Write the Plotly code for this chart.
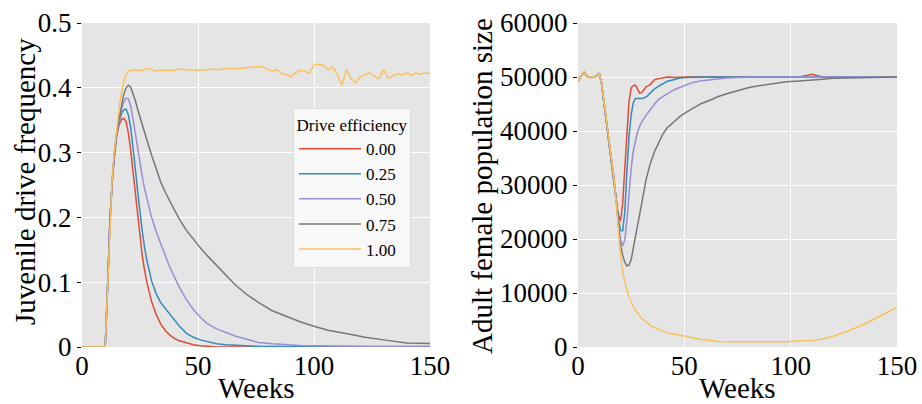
import plotly.graph_objects as go

# ---------------- data ----------------
series_names = ["0.00", "0.25", "0.50", "0.75", "1.00"]
colors = ["#E24A33", "#348ABD", "#988ED5", "#777777", "#FBC15E"]

# Left panel: juvenile drive frequency
weeks_left = [0, 10, 11, 12, 13, 14, 15, 16, 17, 18, 19, 20, 21, 22, 23, 24, 25, 26, 27, 28,
              30, 32, 34, 36, 38, 40, 42, 45, 48, 51, 54, 58, 62, 66, 71, 76, 82, 88, 94, 100,
              106, 115, 122, 130, 140, 150]
freq_000 = [0, 0, 0.09, 0.19, 0.255, 0.3, 0.328, 0.343, 0.351, 0.353, 0.348, 0.33, 0.303, 0.27, 0.235,
            0.197, 0.165, 0.14, 0.118, 0.099, 0.07, 0.05, 0.035, 0.025, 0.018, 0.013, 0.0095, 0.0065,
            0.0035, 0.002, 0.001, 0, 0, 0, 0, 0, 0, 0, 0, 0, 0, 0, 0, 0, 0, 0]
freq_025 = [0, 0, 0.09, 0.19, 0.255, 0.3, 0.33, 0.348, 0.36, 0.366, 0.367, 0.358, 0.338, 0.31, 0.275,
            0.24, 0.207, 0.178, 0.153, 0.133, 0.102, 0.082, 0.068, 0.059, 0.051, 0.041, 0.032, 0.021,
            0.015, 0.011, 0.008, 0.005, 0.0035, 0.0025, 0.0015, 0.001, 0.0007, 0.0005, 0.0004, 0.0003,
            0.0002, 0.0001, 0, 0, 0, 0]
freq_050 = [0, 0, 0.09, 0.19, 0.255, 0.3, 0.33, 0.35, 0.367, 0.378, 0.384, 0.383, 0.372, 0.352, 0.328,
            0.303, 0.282, 0.262, 0.244, 0.228, 0.2, 0.178, 0.158, 0.14, 0.122, 0.106, 0.092, 0.073,
            0.058, 0.046, 0.036, 0.028, 0.022, 0.017, 0.012, 0.007, 0.005, 0.0035, 0.0025, 0.002,
            0.0015, 0.001, 0.001, 0.001, 0.001, 0.001]
freq_075 = [0, 0, 0.09, 0.19, 0.255, 0.3, 0.332, 0.352, 0.372, 0.39, 0.4, 0.404, 0.401, 0.392, 0.38,
            0.367, 0.354, 0.342, 0.33, 0.319, 0.296, 0.274, 0.254, 0.238, 0.224, 0.21, 0.197, 0.18,
            0.166, 0.153, 0.141, 0.126, 0.11, 0.096, 0.081, 0.069, 0.056, 0.047, 0.039, 0.032,
            0.026, 0.02, 0.015, 0.011, 0.006, 0.0055]
weeks_left_full = [0, 10, 11, 12, 13, 14, 15, 16, 17, 18, 19, 20] + list(range(22, 151, 2))
freq_100 = [0, 0, 0.09, 0.19, 0.26, 0.305, 0.34, 0.368, 0.392, 0.41, 0.42, 0.426,
            0.428, 0.427, 0.427, 0.43, 0.428, 0.426, 0.427, 0.427, 0.428, 0.427, 0.429, 0.428,
            0.428, 0.427, 0.428, 0.427, 0.428, 0.429, 0.428, 0.429, 0.43, 0.43, 0.429, 0.43,
            0.431, 0.432, 0.432, 0.433, 0.432, 0.428, 0.426, 0.428, 0.422, 0.421, 0.417, 0.423,
            0.427, 0.426, 0.422, 0.436, 0.436, 0.435, 0.428, 0.432, 0.421, 0.404, 0.428, 0.414,
            0.408, 0.417, 0.42, 0.423, 0.418, 0.414, 0.428, 0.415, 0.418, 0.422, 0.42, 0.423,
            0.419, 0.423, 0.421, 0.423, 0.422]

# Right panel: adult female population size
weeks_right = list(range(0, 31)) + [32, 34, 36, 38, 40, 42, 45, 48, 51, 54, 58, 62, 66, 70, 75,
                                    80, 85, 92, 98, 104, 110, 115, 120, 128, 135, 142, 150]
pre = [49200, 50000, 50500, 50900, 50200, 50000, 50000, 50100, 50100, 50300, 50700,
       49000, 46000, 43000, 40000, 37000, 34000, 31000]
pop_000 = pre + [26800, 24500, 23300, 26500, 33000, 40000, 45500, 48000, 48400, 48500, 47600,
                 47000, 47100, 48200, 48600, 49500, 49700, 49900, 50000, 49900, 50000, 50000,
                 50000, 50000, 50000, 50000, 50000, 50000, 50000, 50000, 50000, 50000, 50000,
                 50500, 50000, 50000, 50000, 50000, 50000, 50000, 50000]
pop_025 = pre + [27000, 23600, 21600, 21500, 25000, 32500, 39000, 43000, 45300, 46000, 46000,
                 46000, 46000, 46300, 47100, 47800, 48300, 48800, 49200, 49500, 49800, 49900,
                 50000, 50000, 50000, 50000, 50000, 50000, 50000, 50000, 50000, 50000, 50000,
                 50000, 50000, 50000, 50000, 50000, 50000, 50000, 50000]
pop_050 = pre + [27200, 22800, 19800, 18700, 19800, 23500, 28500, 33000, 36300, 38400, 39800,
                 40900, 41700, 42900, 44000, 45000, 45900, 46400, 46900, 47600, 48100, 48600,
                 49000, 49300, 49500, 49700, 49800, 49900, 50000, 50000, 50000, 50000, 50000,
                 50000, 50000, 50000, 50000, 50000, 50000, 50000, 50000]
pop_075 = pre + [27300, 22500, 19000, 17000, 15700, 15000, 15200, 16200, 18200, 20500, 22500,
                 24500, 26700, 31000, 34000, 36200, 38000, 39500, 40600, 41700, 42700, 43500,
                 44200, 45100, 45700, 46400, 46900, 47500, 48000, 48400, 48800, 49100, 49250,
                 49500, 49600, 49750, 49800, 49900, 49900, 50000, 50000]
pop_100 = pre + [26500, 21500, 17000, 13800, 12000, 10500, 9300, 8300, 7500, 6800, 6200,
                 5800, 5300, 4600, 4000, 3600, 3200, 2900, 2650, 2400, 2150, 1950, 1700, 1400,
                 1200, 1000, 950, 950, 950, 950, 950, 950, 1150, 1200, 1500, 2000, 3100, 4300,
                 5700, 7400]

x_ticks = [0, 50, 100, 150]
left_y_ticks = [0, 0.1, 0.2, 0.3, 0.4, 0.5]
left_y_labels = ["0", "0.1", "0.2", "0.3", "0.4", "0.5"]
right_y_ticks = [0, 10000, 20000, 30000, 40000, 50000, 60000]
right_y_labels = ["0", "10000", "20000", "30000", "40000", "50000", "60000"]

# ---------------- figure ----------------
FONT = "Liberation Serif"
fig = go.Figure()

left_series = [(weeks_left, freq_000), (weeks_left, freq_025), (weeks_left, freq_050),
               (weeks_left, freq_075), (weeks_left_full, freq_100)]
right_series = [pop_000, pop_025, pop_050, pop_075, pop_100]

for (xs, ys), name, c in zip(left_series, series_names, colors):
    fig.add_trace(go.Scatter(x=xs, y=ys, mode="lines", name=name,
                             line=dict(color=c, width=1.5), xaxis="x", yaxis="y"))
for ys, name, c in zip(right_series, series_names, colors):
    n = min(len(ys), len(weeks_right))
    fig.add_trace(go.Scatter(x=weeks_right[:n], y=ys[:n], mode="lines", name=name, showlegend=False,
                             line=dict(color=c, width=1.5), xaxis="x2", yaxis="y2"))

W, H = 922, 404
TOP, BOT = 23, 347
dom_y = [1 - BOT / H, 1 - TOP / H]


def axis_common():
    return dict(showgrid=True, gridcolor="white", gridwidth=1.2, zeroline=False,
                showline=False, automargin=False,
                tickfont=dict(family=FONT, size=27, color="black"))


fig.update_layout(
    width=W, height=H,
    margin=dict(l=0, r=0, t=0, b=0, autoexpand=False),
    paper_bgcolor="white", plot_bgcolor="#E5E5E5",
    font=dict(family=FONT, color="black"),
    xaxis=dict(domain=[82 / W, 430 / W], range=[0, 150], tickvals=x_ticks,
               ticks="", anchor="y", **axis_common()),
    yaxis=dict(domain=dom_y, range=[0, 0.5], tickvals=left_y_ticks, ticktext=left_y_labels,
               ticks="outside", ticklen=4, tickcolor="black", tickwidth=1, anchor="x",
               **axis_common()),
    xaxis2=dict(domain=[578 / W, 897 / W], range=[0, 150], tickvals=x_ticks,
                ticks="", anchor="y2", **axis_common()),
    yaxis2=dict(domain=dom_y, range=[0, 60000], tickvals=right_y_ticks, ticktext=right_y_labels,
                ticks="outside", ticklen=4, tickcolor="black", tickwidth=1, anchor="x2",
                **axis_common()),
    legend=dict(x=293 / W, y=1 - 108 / H, xanchor="left", yanchor="top",
                bgcolor="rgba(250,250,250,0.92)", bordercolor="#DDDDDD", borderwidth=1,
                itemwidth=62,
                font=dict(family=FONT, size=17, color="black"),
                title=dict(text="Drive efficiency", font=dict(family=FONT, size=17, color="black"),
                           side="top center")),
    showlegend=True,
)

title_font = dict(family=FONT, size=29, color="black")
fig.add_annotation(text="Weeks", x=256 / W, y=1 - 388 / H, xref="paper", yref="paper",
                   showarrow=False, font=title_font, xanchor="center", yanchor="middle")
fig.add_annotation(text="Weeks", x=737.5 / W, y=1 - 388 / H, xref="paper", yref="paper",
                   showarrow=False, font=title_font, xanchor="center", yanchor="middle")
fig.add_annotation(text="Juvenile drive frequency", x=25 / W, y=1 - 182 / H, xref="paper",
                   yref="paper", showarrow=False, font=title_font, textangle=-90,
                   xanchor="center", yanchor="middle")
fig.add_annotation(text="Adult female population size", x=482 / W, y=1 - 186 / H, xref="paper",
                   yref="paper", showarrow=False, font=title_font, textangle=-90,
                   xanchor="center", yanchor="middle")

fig.write_html("out.html")
